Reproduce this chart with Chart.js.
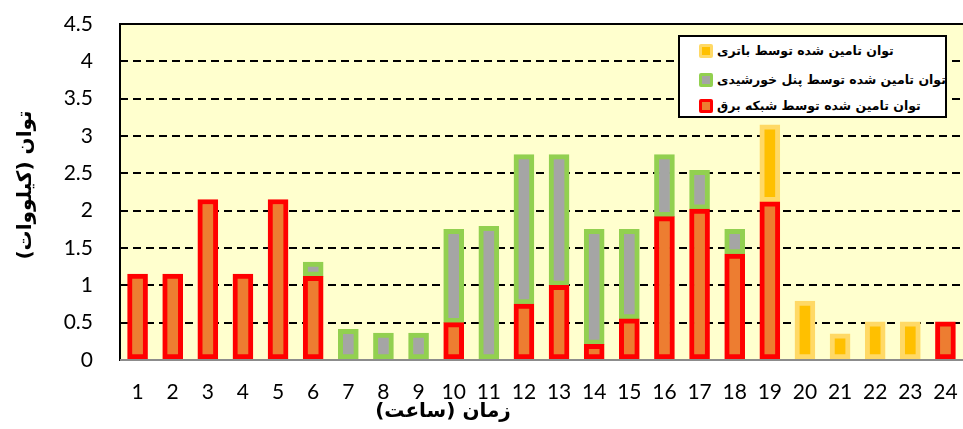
<!DOCTYPE html>
<html>
<head>
<meta charset="utf-8">
<script src="https://cdn.jsdelivr.net/npm/chart.js@4"></script>
<style>
  html, body { margin: 0; padding: 0; background: #fff; }
  #wrap { position: relative; width: 963px; height: 429px; }
  #legend {
    position: absolute; left: 678px; top: 35px; width: 265px; height: 79px;
    background: #fff; border: 2px solid #000;
    font-family: "DejaVu Sans", sans-serif; font-weight: bold; font-size: 12.5px;
  }
  .row { position: absolute; left: 19px; display: flex; align-items: center; white-space: nowrap; }
  .icon { width: 8px; height: 8px; border: 3px solid; border-radius: 2px; margin-right: 4px; flex: none; }
  .row span { direction: rtl; unicode-bidi: embed; }
</style>
</head>
<body>
<div id="wrap">
  <canvas id="chart" width="963" height="429"></canvas>
  <div id="legend"></div>
</div>
<script>
// hourly power supply (kW)
const hours = ['1','2','3','4','5','6','7','8','9','10','11','12','13','14','15','16','17','18','19','20','21','22','23','24'];
const gridPower    = [1.15,1.15,2.15,1.15,2.15,1.12,0,0,0,0.5,0,0.75,1.0,0.21,0.55,1.92,2.02,1.42,2.12,0,0,0,0,0.51];
const solarPower   = [0,0,0,0,0,0.19,0.41,0.36,0.36,1.25,1.79,2.0,1.75,1.54,1.2,0.83,0.52,0.33,0,0,0,0,0,0];
const batteryPower = [0,0,0,0,0,0,0,0,0,0,0,0,0,0,0,0,0,0,1.03,0.79,0.35,0.51,0.51,0];
const yTicks = [0,0.5,1,1.5,2,2.5,3,3.5,4,4.5];

const seriesNames = {
    grid: 'توان تامین شده توسط شبکه برق',
    solar: 'توان تامین شده توسط پنل خورشیدی',
    battery: 'توان تامین شده توسط باتری'
};
const yTitle = 'توان (کیلووات)';
const xTitle = 'زمان (ساعت)';

const styles = {
    grid:    { fill: '#ED7D31', border: '#FF0000' },
    solar:   { fill: '#A5A5A5', border: '#92D050' },
    battery: { fill: '#FFC000', border: '#FFD966' }
};

// html legend (sits inside the plot like the original)
const legendRows = [['battery', 15], ['solar', 44], ['grid', 70]];
const legendDiv = document.getElementById('legend');
legendRows.forEach(([key, top]) => {
    const row = document.createElement('div');
    row.className = 'row';
    row.style.top = (top - 9) + 'px';
    row.innerHTML = `<div class="icon" style="background:${styles[key].fill};border-color:${styles[key].border}"></div><span>${seriesNames[key]}</span>`;
    legendDiv.appendChild(row);
});

const makeSet = (key, values) => ({
    label: seriesNames[key],
    data: values.map(v => v || null),
    backgroundColor: styles[key].fill,
    borderColor: styles[key].border,
    borderWidth: 5,
    borderSkipped: false,
    barThickness: 20
});

const frame = {
    id: 'frame',
    beforeDraw(chart) {
        const { ctx, chartArea: a } = chart;
        ctx.save();
        ctx.fillStyle = '#FFFFCE';
        ctx.fillRect(a.left, a.top, a.right - a.left, a.bottom - a.top);
        ctx.restore();
    },
    afterDraw(chart) {
        const { ctx, chartArea: a } = chart;
        ctx.save();
        // top and left border
        ctx.strokeStyle = '#000';
        ctx.lineWidth = 2;
        ctx.beginPath();
        ctx.moveTo(a.left, a.bottom + 1);
        ctx.lineTo(a.left, a.top);
        ctx.lineTo(a.right, a.top);
        ctx.stroke();
        // category axis
        ctx.strokeStyle = '#8C8C8C';
        ctx.beginPath();
        ctx.moveTo(a.left, a.bottom);
        ctx.lineTo(a.right, a.bottom);
        ctx.stroke();
        // axis titles
        ctx.fillStyle = '#000';
        ctx.font = 'bold 20px "DejaVu Sans"';
        ctx.textAlign = 'center';
        ctx.textBaseline = 'middle';
        ctx.direction = 'rtl';
        ctx.fillText(xTitle, 443, 412);
        ctx.translate(26, 185);
        ctx.rotate(-Math.PI / 2);
        ctx.fillText(yTitle, 0, 0);
        ctx.restore();
    }
};

const chart = new Chart(document.getElementById('chart'), {
    type: 'bar',
    data: {
        labels: hours,
        datasets: [
            makeSet('grid', gridPower),
            makeSet('solar', solarPower),
            makeSet('battery', batteryPower)
        ]
    },
    options: {
        responsive: false,
        animation: false,
        layout: { padding: { top: 24, right: 0, left: 0, bottom: 0 } },
        plugins: { legend: { display: false }, tooltip: { enabled: false } },
        scales: {
            x: {
                stacked: true,
                grid: { display: false },
                border: { display: false },
                ticks: { color: '#000', font: { family: 'Lato', size: 21 }, padding: 12, maxRotation: 0 },
                afterFit: s => { s.height = 69; s.paddingLeft = 0; s.paddingRight = 0; }
            },
            y: {
                stacked: true,
                min: 0,
                max: 4.5,
                afterBuildTicks: s => { s.ticks = yTicks.map(v => ({ value: v })); },
                grid: {
                    drawTicks: false,
                    lineWidth: 2,
                    color: c => (c.tick && c.tick.value > 0 && c.tick.value < 4.5) ? '#000' : 'rgba(0,0,0,0)'
                },
                border: { display: false, dash: [8, 5] },
                ticks: { color: '#000', font: { family: 'Lato', size: 21 }, padding: 27, callback: v => String(v) },
                afterFit: s => { s.width = 120; s.paddingTop = 0; s.paddingBottom = 0; }
            }
        }
    },
    plugins: [frame]
});
</script>
</body>
</html>
